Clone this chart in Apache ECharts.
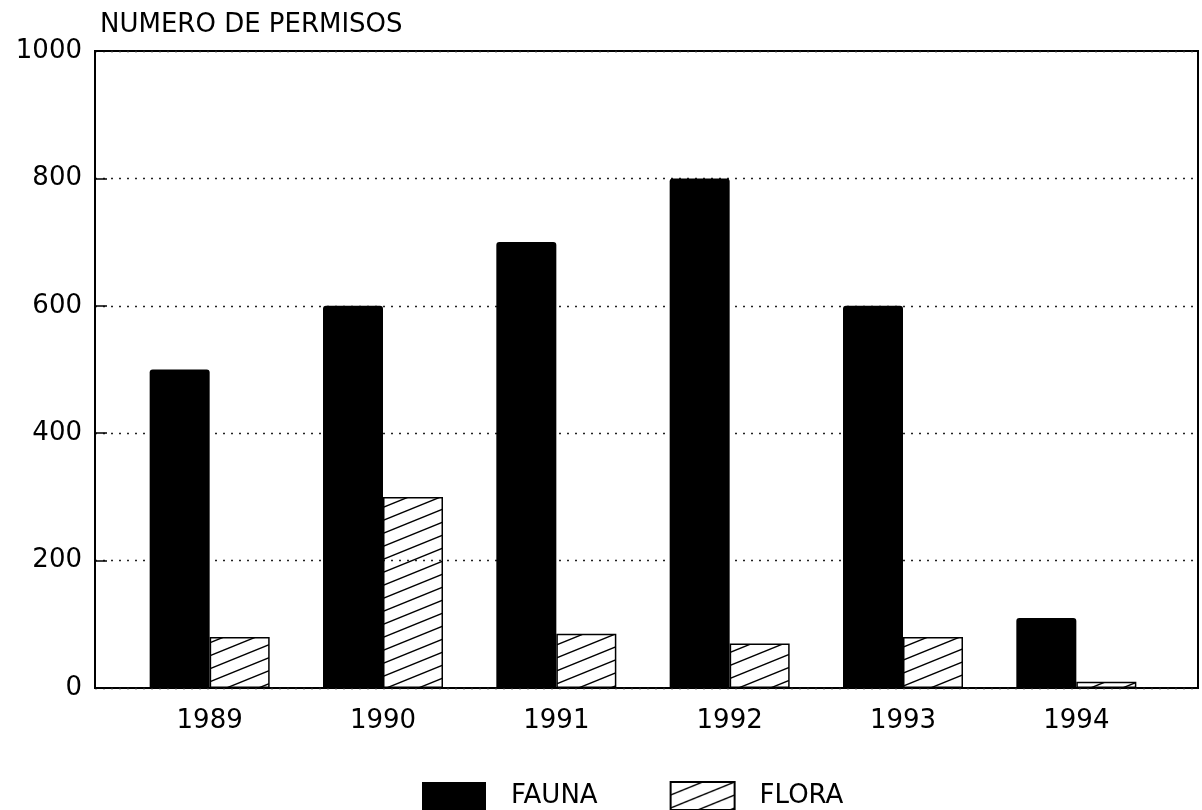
<!DOCTYPE html>
<html>
<head>
<meta charset="utf-8">
<script src="https://cdn.jsdelivr.net/npm/echarts@6/dist/echarts.min.js"></script>
<style>
  html, body { margin: 0; padding: 0; background: #fff; }
  #chart { width: 1202px; height: 810px; }
</style>
</head>
<body>
<div id="chart"></div>
<script>
const years = ["1989", "1990", "1991", "1992", "1993", "1994"];
const fauna = [500, 600, 700, 800, 600, 110];
const flora = [80, 300, 85, 70, 80, 10];
const yTicks = [0, 200, 400, 600, 800, 1000];

const FONT = "DejaVu Sans";
const FS = 26;

// diagonal hatch tile for the flora bars (slope 13/32, lines every 13px)
function hatch() {
  const c = document.createElement("canvas");
  c.width = 64;
  c.height = 26;
  const g = c.getContext("2d");
  g.strokeStyle = "#000";
  g.lineWidth = 1.4;
  for (let k = -3; k <= 3; k++) {
    const b = 26 + 13 * k;
    g.beginPath();
    g.moveTo(-20, b + 20 * 13 / 32);
    g.lineTo(84, b - 84 * 13 / 32);
    g.stroke();
  }
  return c;
}

const chart = echarts.init(document.getElementById("chart"));

chart.setOption({
  animation: false,
  backgroundColor: "#fff",
  title: {
    text: "NUMERO DE PERMISOS",
    left: 95,
    top: 7,
    textStyle: { fontFamily: FONT, fontWeight: "normal", fontSize: FS, color: "#000" }
  },
  legend: {
    left: 417,
    top: 776,
    itemWidth: 64,
    itemHeight: 28,
    itemGap: 72,
    icon: "rect",
    data: ["FAUNA", "FLORA"],
    textStyle: { fontFamily: FONT, fontSize: FS, color: "#000", padding: [0, 0, 0, 20] }
  },
  grid: [
    { left: 95, right: 4, top: 51, bottom: 122, show: true, borderColor: "#000", borderWidth: 2 },
    { left: 123, right: 39, top: 51, bottom: 122 }
  ],
  xAxis: [
    { type: "category", gridIndex: 0, data: years, show: false },
    {
      type: "category",
      gridIndex: 1,
      data: years,
      axisLine: { show: false },
      axisTick: { show: false },
      axisLabel: { margin: 20, fontFamily: FONT, fontSize: FS, color: "#000" }
    }
  ],
  yAxis: [
    {
      type: "value",
      gridIndex: 0,
      min: yTicks[0],
      max: yTicks[yTicks.length - 1],
      interval: 200,
      axisLine: { show: true, lineStyle: { color: "#000", width: 2 } },
      axisTick: { show: true, inside: true, length: 12, lineStyle: { color: "#000", width: 1.5 } },
      axisLabel: {
        margin: 13,
        fontFamily: FONT,
        fontSize: FS,
        color: "#000",
        formatter: (v) => String(v)
      },
      splitLine: { show: true, lineStyle: { color: "#222", width: 1.3, type: [2, 6] } }
    },
    {
      type: "value",
      gridIndex: 1,
      min: 0,
      max: 1000,
      show: false,
      splitLine: { show: false }
    }
  ],
  series: [
    {
      name: "FAUNA",
      type: "bar",
      xAxisIndex: 1,
      yAxisIndex: 1,
      data: fauna,
      barWidth: 60,
      barGap: "0%",
      itemStyle: { color: "#000", borderRadius: [3, 3, 0, 0] }
    },
    {
      name: "FLORA",
      type: "bar",
      xAxisIndex: 1,
      yAxisIndex: 1,
      data: flora,
      barWidth: 60,
      barGap: "0%",
      itemStyle: {
        color: { image: hatch(), repeat: "repeat" },
        borderColor: "#000",
        borderWidth: 1.5
      }
    }
  ]
});
</script>
</body>
</html>
